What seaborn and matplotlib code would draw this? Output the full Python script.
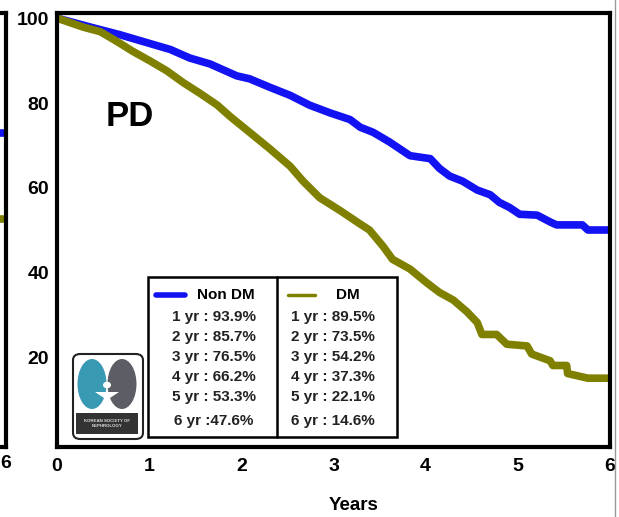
import pandas as pd
import matplotlib
matplotlib.use('Agg')
import matplotlib.pyplot as plt
import seaborn as sns
from matplotlib.patches import Rectangle, FancyBboxPatch, Ellipse, Circle, Polygon
from matplotlib.lines import Line2D

# survival curves (years, % surviving)
years_non_dm = [0, 0.36, 0.68, 1.01, 1.23, 1.44, 1.66, 1.95, 2.09, 2.31, 2.53, 2.74,
                2.96, 3.18, 3.29, 3.43, 3.61, 3.83, 4.05, 4.15, 4.26, 4.40, 4.56,
                4.70, 4.80, 4.91, 5.02, 5.21, 5.35, 5.42, 5.70, 5.76, 6.0]
surv_non_dm = [100, 97.9, 96.1, 94.0, 92.6, 90.6, 89.2, 86.4, 85.7, 83.7, 81.8, 79.5,
               77.7, 76.1, 74.3, 73.1, 70.8, 67.6, 66.9, 64.6, 62.8, 61.6, 59.5,
               58.4, 56.6, 55.4, 53.8, 53.6, 52.0, 51.3, 51.3, 50.1, 50.1]

years_dm = [0, 0.28, 0.47, 0.65, 0.82, 1.01, 1.19, 1.37, 1.55, 1.74, 1.88, 2.09,
            2.31, 2.53, 2.67, 2.85, 3.07, 3.29, 3.39, 3.54, 3.64, 3.83, 4.01,
            4.15, 4.30, 4.45, 4.56, 4.61, 4.77, 4.88, 5.10, 5.15, 5.35, 5.38,
            5.53, 5.54, 5.76, 6.0]
surv_dm = [100, 97.9, 96.8, 94.5, 92.2, 89.9, 87.6, 84.8, 82.3, 79.5, 76.8, 73.1,
           69.2, 65.1, 61.6, 57.7, 54.7, 51.5, 50.1, 46.2, 43.2, 40.9, 37.7,
           35.4, 33.6, 30.8, 28.3, 25.5, 25.5, 23.2, 22.8, 20.9, 19.3, 18.2,
           18.2, 16.3, 15.2, 15.2]

non_dm_rows = ['1 yr : 93.9%', '2 yr : 85.7%', '3 yr : 76.5%',
               '4 yr : 66.2%', '5 yr : 53.3%', '6 yr :47.6%']
dm_rows = ['1 yr : 89.5%', '2 yr : 73.5%', '3 yr : 54.2%',
           '4 yr : 37.3%', '5 yr : 22.1%', '6 yr : 14.6%']

# tail of the neighbouring panel that is cut off at the left edge
prev_years = [5.0, 6.0]
prev_non_dm = [73.0, 73.0]
prev_dm = [52.6, 52.6]

blue = '#1212f2'
olive = '#808000'

sns.set_style('white')
plt.rcParams['font.family'] = ['Liberation Sans', 'DejaVu Sans']
plt.rcParams['font.weight'] = 'bold'
plt.rcParams['text.color'] = 'black'
plt.rcParams['xtick.color'] = 'black'
plt.rcParams['ytick.color'] = 'black'

W, H = 619, 517
fig = plt.figure(figsize=(W / 100, H / 100), dpi=100)


def fx(px):
    return px / W


def fy(py):
    return 1 - py / H


df = pd.concat([
    pd.DataFrame({'Years': years_non_dm, 'Survival': surv_non_dm, 'Group': 'Non DM'}),
    pd.DataFrame({'Years': years_dm, 'Survival': surv_dm, 'Group': 'DM'}),
])

# --- cropped neighbour panel ---
ax0 = fig.add_axes([fx(6) - 0.5, fy(447), 0.5, (447 - 13) / H])
prev = pd.DataFrame({'Years': prev_years * 2, 'Survival': prev_non_dm + prev_dm,
                     'Group': ['a', 'a', 'b', 'b']})
sns.lineplot(data=prev, x='Years', y='Survival', hue='Group',
             palette={'a': blue, 'b': olive}, linewidth=5.5, legend=False,
             estimator=None, sort=False, ax=ax0)
ax0.set_xlim(0, 6)
ax0.set_ylim(-1, 101.2)
ax0.set_xticks([6])
ax0.set_xticklabels(['6'], fontsize=14)
ax0.set_yticks([])
ax0.set_xlabel('')
ax0.set_ylabel('')
ax0.tick_params(axis='x', length=0, pad=6)
for s in ax0.spines.values():
    s.set_linewidth(3)
    s.set_color('black')

# --- main panel ---
ax = fig.add_axes([fx(57), fy(447), (610 - 57) / W, (447 - 13) / H])
sns.lineplot(data=df, x='Years', y='Survival', hue='Group',
             hue_order=['Non DM', 'DM'], palette={'Non DM': blue, 'DM': olive},
             linewidth=5.5, legend=False, estimator=None, sort=False, ax=ax)
ax.set_xlim(0, 6)
ax.set_ylim(-1, 101.2)
ax.set_xticks(range(7))
ax.set_yticks([20, 40, 60, 80, 100])
ax.tick_params(axis='both', labelsize=14, length=4, width=1.2,
               direction='out', pad=1.5)
ax.tick_params(axis='x', pad=4)
ax.set_xlabel('')
ax.set_ylabel('')
for s in ax.spines.values():
    s.set_linewidth(3)
    s.set_color('black')

fig.text(fx(354), fy(505), 'Years', ha='center', va='center', fontsize=13.5)
fig.text(fx(130), fy(116), 'PD', ha='center', va='center', fontsize=25)

# --- survival table / legend box ---
fig.add_artist(Rectangle((fx(148), fy(437)), fx(397) - fx(148), fy(277) - fy(437),
                         transform=fig.transFigure, facecolor='white',
                         edgecolor='black', linewidth=1.8, zorder=5))
fig.add_artist(Line2D([fx(277), fx(277)], [fy(277), fy(437)],
                      transform=fig.transFigure, color='black', lw=1.8, zorder=6))
fig.add_artist(Line2D([fx(156), fx(185)], [fy(295), fy(295)],
                      transform=fig.transFigure, color=blue, lw=4, zorder=6))
fig.add_artist(Line2D([fx(288), fx(315)], [fy(295), fy(295)],
                      transform=fig.transFigure, color=olive, lw=2.5, zorder=6))
fig.text(fx(226), fy(295), 'Non DM', ha='center', va='center', fontsize=11, zorder=7)
fig.text(fx(348), fy(295), 'DM', ha='center', va='center', fontsize=11, zorder=7)
row_y = [317, 337, 357, 377, 397, 421]
for yy, a, b in zip(row_y, non_dm_rows, dm_rows):
    fig.text(fx(214), fy(yy), a, ha='center', va='center', fontsize=11,
             color='#222222', zorder=7)
    fig.text(fx(333), fy(yy), b, ha='center', va='center', fontsize=11,
             color='#222222', zorder=7)

# --- society logo ---
fig.add_artist(FancyBboxPatch((fx(73), fy(439)), fx(143) - fx(73), fy(354) - fy(439),
                              boxstyle='round,pad=0,rounding_size=0.012',
                              transform=fig.transFigure, facecolor='white',
                              edgecolor='#222222', linewidth=1.5, zorder=5))
fig.add_artist(Ellipse((fx(92), fy(384)), fx(29), fy(0) - fy(50),
                       transform=fig.transFigure, facecolor='#3a9ab4',
                       edgecolor='none', zorder=6))
fig.add_artist(Ellipse((fx(122), fy(384)), fx(29), fy(0) - fy(50),
                       transform=fig.transFigure, facecolor='#5d5d66',
                       edgecolor='none', zorder=6))
fig.add_artist(Polygon([(fx(95), fy(392)), (fx(119), fy(392)), (fx(110), fy(398)),
                        (fx(109), fy(409)), (fx(105), fy(409)), (fx(104), fy(398))],
                       closed=True, transform=fig.transFigure, facecolor='white',
                       edgecolor='none', zorder=7))
fig.add_artist(Circle((fx(107), fy(385)), fx(4), transform=fig.transFigure,
                      facecolor='white', edgecolor='none', zorder=7))
fig.add_artist(Rectangle((fx(76), fy(434)), fx(138) - fx(76), fy(0) - fy(21),
                         transform=fig.transFigure, facecolor='#333333',
                         edgecolor='none', zorder=6))
fig.text(fx(107), fy(423.5), 'KOREAN SOCIETY OF\nNEPHROLOGY', ha='center',
         va='center', fontsize=3.2, color='#dddddd', linespacing=1.1, zorder=7)

# slide edge on the right
fig.add_artist(Line2D([fx(615), fx(615)], [0, 1], transform=fig.transFigure,
                      color='#999999', lw=1))

fig.savefig('out.png', dpi=100, facecolor='white')
